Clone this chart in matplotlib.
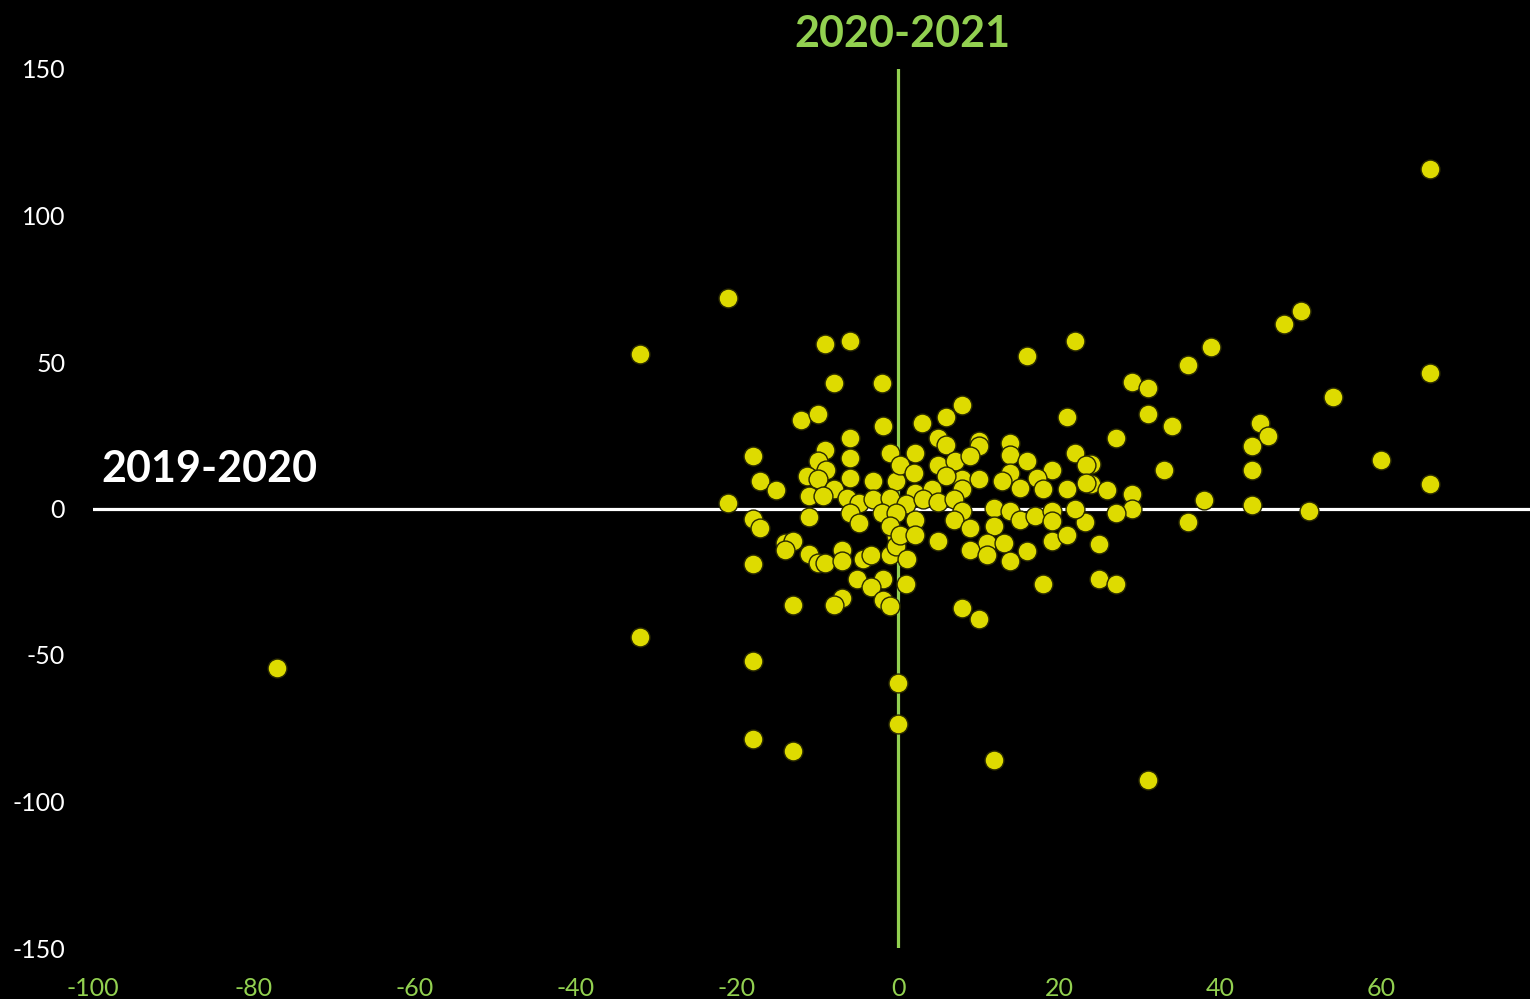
import matplotlib
matplotlib.use("Agg")
import matplotlib.pyplot as plt

# cambio 2019-2020 (x) y cambio 2020-2021 (y)
x_change = [
    -77.1, -32, -32, -21.1, -21.1, -18, -18, -18, -18, -13, -13, -9.1, -6, -8, -2,
    0, 0, 11.9, 31.1, 66.1, 66.1, 66.1,
    50, 48, 38.9, 36, 29, 31.1, 31.1, 34, 27.1, 45, 46, 44, 44, 33, 54, 24, 24, 26,
    29, 29, 27.1, 38, 44, 51, 36, 23.2, 25, 25, 27.1, 60, 22, 16,
    -12, -10, -1.9, -9.1, -6, -6, -1, -10, -8.9, -11.3, -17.1, -15.1, -10, -6, -3.1,
    -0.2, -8, -11.1, -9.3, -6.4, -4.9, -3.1, -1, -6, -4.9, -2, -18, -17.1, -11.1,
    -14, -13, -14, -11.1, -10, -9.1, -7, -7, -4.3, -3.3, -1, -1.9, -5.1, -3.3, -1.9,
    -1, -7, -8, -0.2, -0.2,
    7.9, 6, 3, 21, 5, 6, 10, 13.9, 2.1, 10, 13.9, 16, 22, 23.4, 5, 7.1, 8.9, 0.2, 2,
    13.9, 19.1, 17.2, 12.9, 15.2, 18, 21, 23.4, 7.9, 10, 6, 7.9, 2.1, 4.2, 1, 3.1, 5,
    6.9, 7.9, 6.9, 11.9, 13.9, 15.2, 17, 19.1, 19.1, 22, 2.1, -0.2, -1, 0.2, 2.1,
    8.9, 11.9, 11, 13.1, 5, 1.1, 8.9, 11, 13.9, 16, 19.1, 21, 1, 18, 7.9, 10,
]
y_change = [
    -54.6, 52.9, -43.7, 72, 2, 18, -18.8, -51.9, -78.8, -82.6, -32.8, 56.3, 57.3, 43, 43,
    -59.7, -73.7, -86, -92.8, 116, 46.4, 8.2,
    67.3, 63, 55, 49.1, 43.2, 41, 32.2, 28, 24.1, 29.2, 24.9, 21.3, 13.1, 13.1, 38.1, 15.3, 8.2, 6.3,
    5.1, -0.1, -1.7, 2.8, 1.1, -0.9, -4.7, -4.7, -12, -23.9, -25.9, 16.4, 57.3, 52.2,
    30.1, 32.1, 28.1, 20.1, 24.1, 17.3, 19, 16.1, 13.1, 11, 9.3, 6.2, 9.9, 10.5, 9.3,
    9.3, 6.5, 4.2, 4.2, 3.6, 1.9, 3.1, 3.6, -1.5, -4.9, -1.5, -3.5, -6.8, -3,
    -11.7, -11.2, -14, -15.4, -18.5, -18.5, -14.2, -18, -17.4, -15.7, -15.7, -24, -24, -26.7, -31.1,
    -33.3, -30.5, -32.8, -9.5, -12.9,
    35.2, 31.3, 29.2, 31.3, 24.1, 21.8, 23.2, 22.4, 19, 21.3, 18.4, 16.1, 19.1, 15, 15, 16.1, 17.8, 15, 12.2,
    12.2, 13.1, 10.5, 9.3, 7.1, 6.5, 6.5, 8.8, 9.9, 10.1, 11, 6.5, 5.4, 6.5, 1.4, 3.1, 2.2,
    3.1, -0.9, -3.8, 0.2, -0.9, -3.8, -2.6, -0.9, -4.3, -0.3, -3.8, -1.5, -6, -8.9, -8.9,
    -6.6, -6, -11.7, -11.7, -11.2, -17.4, -14, -15.7, -18, -14.6, -11.2, -8.9, -25.9, -25.9, -33.9, -37.6,
]

x_ticks = [-100, -80, -60, -40, -20, 0, 20, 40, 60]
y_ticks = [-150, -100, -50, 0, 50, 100, 150]
x_title = "2019-2020"
y_title = "2020-2021"

green = "#92d050"
yellow = "#dedb00"

plt.rcParams["font.family"] = ["Lato", "DejaVu Sans"]
plt.rcParams["axes.unicode_minus"] = False

fig = plt.figure(figsize=(15.3, 9.99), dpi=100, facecolor="black")
ax = fig.add_axes([93 / 1530, 51 / 999, 1 - 93 / 1530, 879 / 999])
ax.set_facecolor("black")

ax.set_xlim(-100, 78.5)
ax.set_ylim(-150, 150)

# ejes cruzando en cero
ax.axhline(0, color="white", linewidth=2.3, zorder=1)
ax.axvline(0, color=green, linewidth=2.3, zorder=1)

ax.scatter(x_change, y_change, s=185, color=yellow, edgecolors="#2a2a00",
           linewidths=1.0, zorder=3)

for s in ax.spines.values():
    s.set_visible(False)

ax.set_xticks(x_ticks)
ax.set_yticks(y_ticks)
ax.tick_params(axis="x", length=0, pad=21, labelsize=18, labelcolor=green)
ax.tick_params(axis="y", length=0, pad=20, labelsize=18, labelcolor="white")
for lab in ax.get_yticklabels():
    lab.set_horizontalalignment("right")

ax.text(0.6, 1.04, y_title, transform=ax.get_xaxis_transform(), ha="center",
        va="center", fontsize=31, fontweight="bold", color=green)
ax.text(-99, 13.5, x_title, ha="left", va="center", fontsize=31,
        fontweight="bold", color="white")

fig.savefig("out.png", facecolor="black")
